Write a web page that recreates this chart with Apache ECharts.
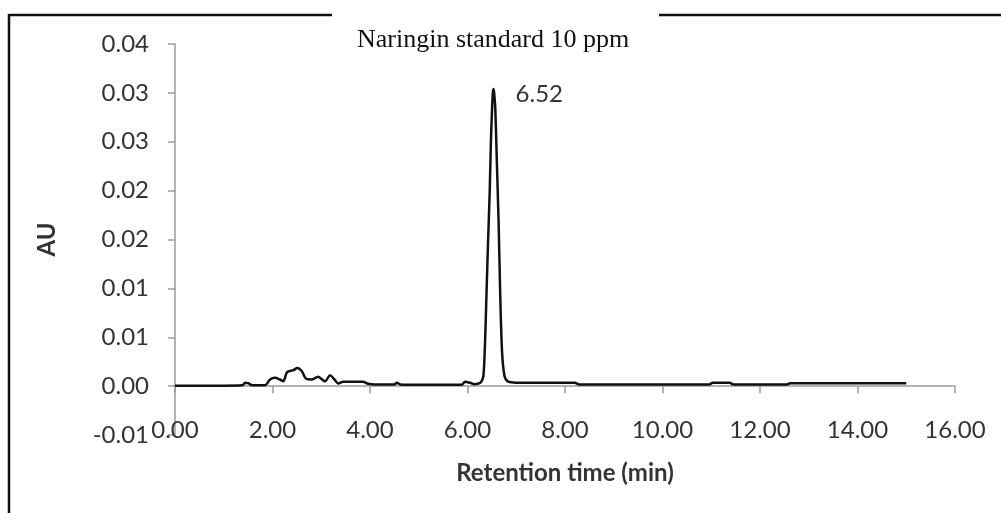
<!DOCTYPE html>
<html>
<head>
<meta charset="utf-8">
<script src="https://cdn.jsdelivr.net/npm/echarts@6/dist/echarts.min.js"></script>
<style>
html,body{margin:0;padding:0;background:#fff;}
#c{width:1001px;height:513px;}
</style>
</head>
<body>
<div id="c"></div>
<script>
// Retention time (min)
const times = [
  0.00, 0.50, 1.00, 1.38, 1.44, 1.50, 1.58, 1.70, 1.85, 1.95, 2.05, 2.15, 2.22,
  2.30, 2.43, 2.51, 2.60, 2.69, 2.80, 2.94, 3.00, 3.08, 3.18, 3.27, 3.35, 3.45,
  3.86, 3.96, 4.10, 4.50, 4.55, 4.62, 5.00, 5.50, 5.88, 5.95, 6.05, 6.15, 6.25,
  6.30, 6.33, 6.36, 6.39, 6.42, 6.455, 6.48, 6.505, 6.52, 6.535, 6.55, 6.57,
  6.60, 6.64, 6.67, 6.71, 6.76, 6.82, 6.90, 7.07, 8.20, 8.29, 9.00, 10.00,
  10.96, 11.03, 11.38, 11.45, 12.00, 12.55, 12.62, 13.50, 14.50, 15.00
];
// Absorbance (AU)
const au = [
  0.00005, 0.00005, 0.00005, 0.00008, 0.00034, 0.00030, 0.00010, 0.00008, 0.00010, 0.00068, 0.00085, 0.00068, 0.00050,
  0.00144, 0.00164, 0.00185, 0.00154, 0.00075, 0.00068, 0.00096, 0.00075, 0.00050, 0.00110, 0.00068, 0.00027, 0.00044,
  0.00044, 0.00024, 0.00017, 0.00017, 0.00034, 0.00017, 0.00014, 0.00014, 0.00014, 0.00044, 0.00034, 0.00020, 0.00030,
  0.00060, 0.00120, 0.00450, 0.00950, 0.01450, 0.01980, 0.02500, 0.02850, 0.03000, 0.03040, 0.02980, 0.02840,
  0.02330, 0.01640, 0.00960, 0.00340, 0.00100, 0.00050, 0.00040, 0.00034, 0.00034, 0.00017, 0.00017, 0.00017,
  0.00017, 0.00034, 0.00034, 0.00017, 0.00017, 0.00017, 0.00030, 0.00030, 0.00030, 0.00030
];
const xTickLabels = ['0.00','2.00','4.00','6.00','8.00','10.00','12.00','14.00','16.00'];
const yTickLabels = ['-0.01','0.00','0.01','0.01','0.02','0.02','0.03','0.03','0.04'];
const peakTime = 6.535;
const peakValue = 0.0304;
const peakLabel = '6.52';
const titleText = 'Naringin standard 10 ppm';

const X_MIN = 0, X_MAX = 16, X_INT = 2;
const Y_MIN = -0.005, Y_MAX = 0.035, Y_INT = 0.005;

const chart = echarts.init(document.getElementById('c'));
const lblFont = 'Lato, "Open Sans", sans-serif';
chart.setOption({
  animation: false,
  backgroundColor: '#fff',
  title: {
    text: titleText,
    left: 352, top: 22,
    textStyle: {fontFamily: '"Liberation Serif", "Times New Roman", serif', fontSize: 26, fontWeight: 'normal', color: '#111'}
  },
  graphic: [
    {type: 'line', shape: {x1: 9, y1: 15, x2: 332, y2: 15}, style: {stroke: '#111', lineWidth: 2.5}},
    {type: 'line', shape: {x1: 659, y1: 15, x2: 1001, y2: 15}, style: {stroke: '#111', lineWidth: 2.5}},
    {type: 'line', shape: {x1: 9, y1: 14, x2: 9, y2: 513}, style: {stroke: '#111', lineWidth: 2.5}}
  ],
  grid: {left: 175, right: 46, top: 44, bottom: 78, containLabel: false, outerBoundsMode: 'none'},
  xAxis: {
    type: 'value', min: X_MIN, max: X_MAX, interval: X_INT,
    name: 'Retention time (min)', nameLocation: 'middle', nameGap: 26,
    nameTextStyle: {fontFamily: lblFont, fontSize: 24, fontWeight: 'bold', color: '#333'},
    axisLine: {show: true, onZero: true, lineStyle: {color: '#9a9a9a', width: 1.5}},
    axisTick: {show: true, length: 7, lineStyle: {color: '#9a9a9a', width: 1.5}},
    splitLine: {show: false},
    axisLabel: {
      margin: -17, fontFamily: lblFont, fontSize: 24, color: '#333',
      formatter: v => xTickLabels[Math.round((v - X_MIN) / X_INT)] ?? ''
    }
  },
  yAxis: {
    type: 'value', min: Y_MIN, max: Y_MAX, interval: Y_INT,
    name: 'AU', nameLocation: 'middle', nameGap: 116, nameRotate: 90,
    nameTextStyle: {fontFamily: lblFont, fontSize: 24, fontWeight: 'bold', color: '#333'},
    axisLine: {show: true, onZero: false, lineStyle: {color: '#9a9a9a', width: 1.5}},
    axisTick: {show: true, length: 7, lineStyle: {color: '#9a9a9a', width: 1.5}},
    splitLine: {show: false},
    axisLabel: {
      margin: 26, fontFamily: lblFont, fontSize: 24, color: '#333',
      formatter: v => yTickLabels[Math.round((v - Y_MIN) / Y_INT)] ?? ''
    }
  },
  series: [{
    type: 'line',
    data: times.map((t, i) => [t, au[i]]),
    showSymbol: false, symbol: 'none',
    smooth: 0.3,
    lineStyle: {color: '#111', width: 2.5},
    markPoint: {
      symbol: 'circle', symbolSize: 0,
      data: [{coord: [peakTime, peakValue]}],
      label: {
        show: true, position: 'right', offset: [17, 5], formatter: peakLabel,
        fontFamily: lblFont, fontSize: 24, color: '#333'
      }
    }
  }]
});
</script>
</body>
</html>
